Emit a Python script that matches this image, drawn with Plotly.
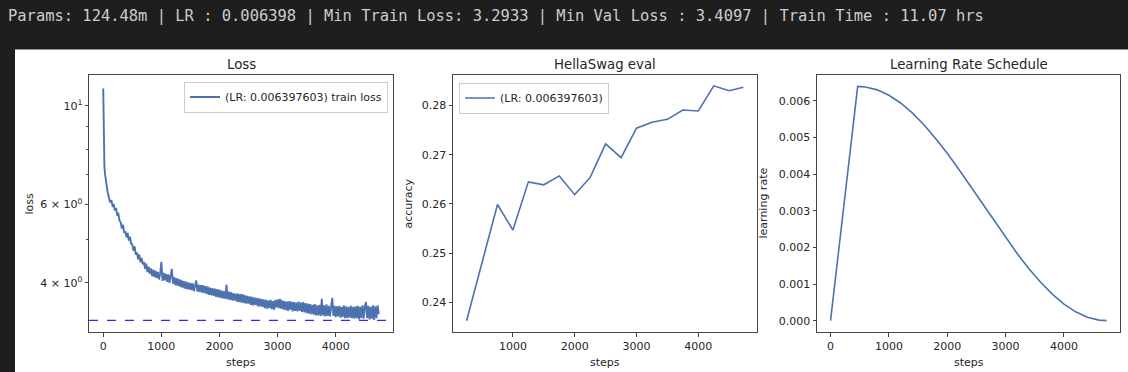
import numpy as np
import plotly.graph_objects as go

# ---------------- data ----------------
header_text = ("Params: 124.48m | LR : 0.006398 | Min Train Loss: 3.2933 | "
               "Min Val Loss : 3.4097 | Train Time : 11.07 hrs")
lr_label = "(LR: 0.006397603)"

early_steps = [0, 4, 8, 12, 16, 20, 30, 40, 60, 80]
early_loss = [10.95, 9.6, 8.4, 7.7, 7.45, 7.3, 7.05, 6.85, 6.6, 6.35]
grid_steps = list(range(100, 4741, 20))
grid_loss = [
    6.22, 6.06, 6.14, 5.96, 5.99, 5.82, 5.90, 5.70, 5.72, 5.52,
    5.48, 5.30, 5.40, 5.18, 5.22, 5.06, 5.18, 4.98, 5.08, 4.90,
    4.88, 4.72, 4.83, 4.63, 4.68, 4.52, 4.63, 4.45, 4.55, 4.40,
    4.46, 4.30, 4.42, 4.23, 4.35, 4.19, 4.31, 4.14, 4.28, 4.12,
    4.26, 4.10, 4.23, 4.07, 4.20, 4.46, 4.04, 4.21, 4.05, 4.19,
    4.02, 4.18, 4.00, 4.15, 4.30, 3.98, 4.12, 3.95, 4.10, 3.94,
    4.08, 3.92, 4.06, 3.90, 4.04, 3.88, 4.03, 3.87, 4.01, 3.86,
    4.00, 3.85, 3.99, 3.83, 3.97, 4.05, 3.82, 3.96, 3.81, 3.95,
    3.80, 3.95, 3.79, 3.93, 3.77, 3.92, 3.76, 3.90, 3.75, 3.89,
    3.74, 3.88, 3.72, 3.87, 3.71, 3.86, 3.70, 3.84, 3.69, 3.83,
    3.68, 3.96, 3.67, 3.82, 3.66, 3.81, 3.65, 3.79, 3.65, 3.78,
    3.63, 3.78, 3.62, 3.77, 3.61, 3.77, 3.60, 3.75, 3.59, 3.74,
    3.59, 3.73, 3.57, 3.72, 3.56, 3.71, 3.57, 3.70, 3.54, 3.69,
    3.54, 3.68, 3.53, 3.67, 3.51, 3.66, 3.50, 3.65, 3.51, 3.66,
    3.49, 3.64, 3.48, 3.66, 3.52, 3.67, 3.51, 3.68, 3.50, 3.65,
    3.48, 3.64, 3.47, 3.63, 3.46, 3.64, 3.48, 3.63, 3.45, 3.62,
    3.46, 3.61, 3.45, 3.63, 3.46, 3.61, 3.44, 3.62, 3.43, 3.60,
    3.42, 3.59, 3.41, 3.58, 3.40, 3.57, 3.39, 3.58, 3.38, 3.56,
    3.38, 3.57, 3.37, 3.68, 3.38, 3.56, 3.36, 3.58, 3.37, 3.55,
    3.36, 3.57, 3.70, 3.37, 3.55, 3.35, 3.54, 3.36, 3.55, 3.34,
    3.53, 3.35, 3.56, 3.33, 3.54, 3.33, 3.53, 3.34, 3.55, 3.33,
    3.53, 3.32, 3.54, 3.33, 3.55, 3.31, 3.53, 3.33, 3.56, 3.32,
    3.54, 3.62, 3.33, 3.55, 3.31, 3.53, 3.32, 3.56, 3.30, 3.54,
    3.33, 3.56, 3.40,
]
loss_steps = early_steps + grid_steps
train_loss = early_loss + grid_loss
gpt2_baseline_loss = 3.2924

hs_steps = [250, 750, 1000, 1250, 1500, 1750, 2000, 2250, 2500, 2750,
            3000, 3250, 3500, 3750, 4000, 4250, 4500, 4730]
hs_acc = [0.2363, 0.2599, 0.2547, 0.2645, 0.2639, 0.2657, 0.2619, 0.2654,
          0.2722, 0.2694, 0.2754, 0.2766, 0.2772, 0.2791, 0.2789, 0.2840,
          0.2830, 0.2837]

lr_steps = [0, 465, 600, 800, 1000, 1200, 1400, 1600, 1800, 2000, 2200, 2400,
            2600, 2800, 3000, 3200, 3400, 3600, 3800, 4000, 4200, 4400, 4600, 4730]
lr_vals = [0.0, 0.006398, 0.006383, 0.006304, 0.006157, 0.005945, 0.005675,
           0.005350, 0.004978, 0.004570, 0.004129, 0.003669, 0.003199,
           0.002729, 0.002269, 0.001828, 0.001420, 0.001048, 0.000723,
           0.000452, 0.000241, 0.000094, 0.000015, 0.0]

step_ticks = [0, 1000, 2000, 3000, 4000]
loss_tickvals = [4, 6, 10]
loss_ticktext = ["4 × 10<sup>0</sup>", "6 × 10<sup>0</sup>", "10<sup>1</sup>"]
loss_minor = [5, 7, 8, 9]
hs_ticks = [0.24, 0.25, 0.26, 0.27, 0.28]
lr_ticks = [0.000, 0.001, 0.002, 0.003, 0.004, 0.005, 0.006]

# ---------------- layout helpers ----------------
W, H = 1128, 372
def fx(x):
    return x / W
def fy(y):
    return 1 - y / H

BLUE = "#4c72b0"
SPINE = "#444444"
TXT = "#262626"
FONT = "DejaVu Sans"
TICKF = dict(family=FONT, size=11, color=TXT)

fig = go.Figure()
fig.add_trace(go.Scatter(x=loss_steps, y=train_loss, mode="lines",
                         line=dict(color=BLUE, width=1.9),
                         name=lr_label + " train loss",
                         xaxis="x", yaxis="y", legend="legend"))
fig.add_trace(go.Scatter(x=hs_steps, y=hs_acc, mode="lines",
                         line=dict(color=BLUE, width=1.6),
                         name=lr_label, xaxis="x2", yaxis="y2", legend="legend2"))
fig.add_trace(go.Scatter(x=lr_steps, y=lr_vals, mode="lines",
                         line=dict(color=BLUE, width=1.6),
                         showlegend=False, xaxis="x3", yaxis="y3"))

fig.add_shape(type="line", xref="x domain", yref="y", x0=0, x1=1,
              y0=gpt2_baseline_loss, y1=gpt2_baseline_loss,
              line=dict(color="#2a2aff", width=1.3, dash="dash"))

# panels: dark page with white figure area
fig.add_shape(type="rect", xref="paper", yref="paper", x0=fx(15), x1=1,
              y0=0, y1=fy(49.5), fillcolor="white", line=dict(width=0),
              layer="below")

common_ax = dict(showline=True, mirror=True, linecolor=SPINE, linewidth=1,
                 ticks="outside", ticklen=3.5, tickcolor=SPINE, tickwidth=1,
                 showgrid=False, zeroline=False, tickfont=TICKF,
                 automargin=False)

doms = [(89, 393), (453, 757), (817, 1120)]
ydom = [fy(332), fy(75)]

fig.update_layout(
    width=W, height=H,
    margin=dict(l=0, r=0, t=0, b=0),
    paper_bgcolor="#1e1e1e",
    plot_bgcolor="white",
    xaxis=dict(domain=[fx(doms[0][0]), fx(doms[0][1])], range=[-245, 4985],
               tickvals=step_ticks, anchor="y", **common_ax),
    yaxis=dict(domain=ydom, type="log", range=[np.log10(3.10), np.log10(11.74)],
               tickvals=loss_tickvals, ticktext=loss_ticktext,
               minor=dict(tickvals=loss_minor, ticklen=2, tickcolor=SPINE, ticks="outside"),
               anchor="x", **common_ax),
    xaxis2=dict(domain=[fx(doms[1][0]), fx(doms[1][1])], range=[30, 4950],
                tickvals=step_ticks, anchor="y2", **common_ax),
    yaxis2=dict(domain=ydom, range=[0.2340, 0.2862], tickvals=hs_ticks,
                tickformat=".2f", anchor="x2", **common_ax),
    xaxis3=dict(domain=[fx(doms[2][0]), fx(doms[2][1])], range=[-232, 4960],
                tickvals=step_ticks, anchor="y3", **common_ax),
    yaxis3=dict(domain=ydom, range=[-0.00031, 0.00671], tickvals=lr_ticks,
                tickformat=".3f", anchor="x3", **common_ax),
    legend=dict(x=fx(388), y=fy(81.5), xanchor="right", yanchor="top",
                bgcolor="rgba(255,255,255,0.8)", bordercolor="#cccccc", borderwidth=1,
                font=dict(family=FONT, size=11, color=TXT),
                itemwidth=30, tracegroupgap=0),
    legend2=dict(x=fx(459), y=fy(82.5), xanchor="left", yanchor="top",
                 bgcolor="rgba(255,255,255,0.8)", bordercolor="#cccccc", borderwidth=1,
                 font=dict(family=FONT, size=11, color=TXT),
                 itemwidth=30, tracegroupgap=0),
    showlegend=True,
)

ann = []
ann.append(dict(text=header_text, x=fx(6), y=fy(16.5), xref="paper", yref="paper",
                xanchor="left", yanchor="middle", showarrow=False,
                font=dict(family="DejaVu Sans Mono", size=15.45, color="#cccccc")))
titles = ["Loss", "HellaSwag eval", "Learning Rate Schedule"]
ylabels = [("loss", 29), ("accuracy", 408), ("learning rate", 763)]
for (x0, x1), t, (yl, ylx) in zip(doms, titles, ylabels):
    ann.append(dict(text=t, x=fx((x0 + x1) / 2), y=fy(64), xref="paper", yref="paper",
                    xanchor="center", yanchor="middle", showarrow=False,
                    font=dict(family=FONT, size=13.3, color=TXT)))
    ann.append(dict(text="steps", x=fx((x0 + x1) / 2), y=fy(362), xref="paper", yref="paper",
                    xanchor="center", yanchor="middle", showarrow=False,
                    font=dict(family=FONT, size=11, color=TXT)))
    ann.append(dict(text=yl, x=fx(ylx), y=fy(203.5), xref="paper", yref="paper",
                    xanchor="center", yanchor="middle", showarrow=False, textangle=-90,
                    font=dict(family=FONT, size=11, color=TXT)))
fig.update_layout(annotations=ann)

fig.write_html(
    "out.html",
    config={"displayModeBar": False},
    post_script="document.body.style.margin='0';document.body.style.padding='0';"
                "document.body.style.background='#1e1e1e';"
                "document.documentElement.style.background='#1e1e1e';",
)
